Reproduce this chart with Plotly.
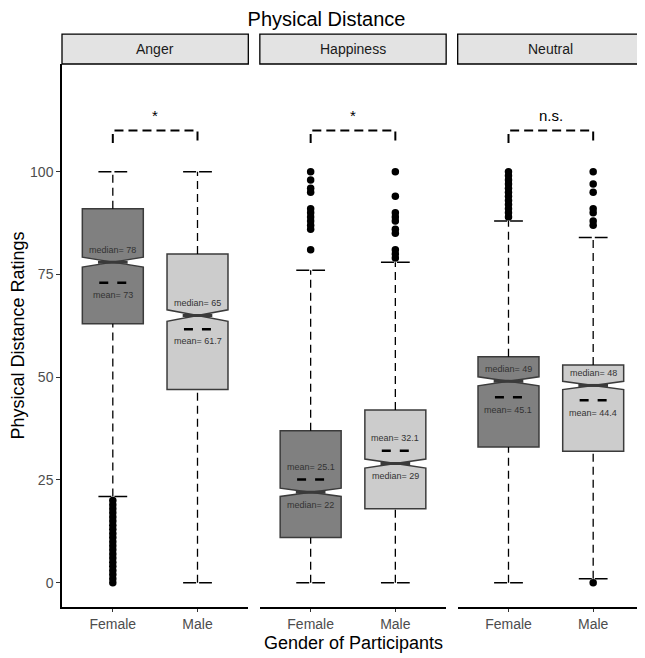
import plotly.graph_objects as go
from plotly.subplots import make_subplots

emotions = ["Anger", "Happiness", "Neutral"]
genders = ["Female", "Male"]
gender_pos = [1, 2]

# box statistics, per emotion: [Female, Male]
q1_vals = {"Anger": [63, 47], "Happiness": [11, 18], "Neutral": [33, 32]}
median_vals = {"Anger": [78, 65], "Happiness": [22, 29], "Neutral": [49, 48]}
q3_vals = {"Anger": [91, 80], "Happiness": [37, 42], "Neutral": [55, 53]}
lower_whisker = {"Anger": [21, 0], "Happiness": [0, 0], "Neutral": [0, 1]}
upper_whisker = {"Anger": [100, 100], "Happiness": [76, 78], "Neutral": [88, 84]}
mean_vals = {"Anger": [73, 61.7], "Happiness": [25.1, 32.1], "Neutral": [45.1, 44.4]}
notch_span = {"Anger": [1.2, 1.4], "Happiness": [1.0, 1.1], "Neutral": [1.1, 1.0]}

outliers = {
    "Anger": [list(range(0, 21)), []],
    "Happiness": [[100, 98, 96, 95, 91, 90, 89, 88, 87, 86, 81],
                  [100, 94, 90, 89, 88, 86, 85, 81, 80, 79]],
    "Neutral": [[100, 99, 98, 97, 96, 95, 94, 93, 92, 91, 90, 89],
                [100, 97, 95, 91, 90, 88, 87, 0]],
}

sig_labels = ["*", "*", "n.s."]
bracket_y = 110
bracket_drop = 107

fills = ["#808080", "#cccccc"]
edge = "#3b3b3b"
font_fam = "Liberation Sans, Arial, sans-serif"

fig = make_subplots(rows=1, cols=3, shared_yaxes=True, horizontal_spacing=0.0198)

for c, emo in enumerate(emotions, start=1):
    xr = "x%d" % c if c > 1 else "x"
    yr = "y%d" % c if c > 1 else "y"
    for g in range(2):
        p = gender_pos[g]
        # whiskers (dashed)
        fig.add_trace(go.Scatter(x=[p, p], y=[q3_vals[emo][g], upper_whisker[emo][g]],
                                 mode="lines", line=dict(color="black", width=1.3, dash="8px,5px"),
                                 hoverinfo="skip"), row=1, col=c)
        fig.add_trace(go.Scatter(x=[p, p], y=[lower_whisker[emo][g], q1_vals[emo][g]],
                                 mode="lines", line=dict(color="black", width=1.3, dash="8px,5px"),
                                 hoverinfo="skip"), row=1, col=c)
        for wy in [upper_whisker[emo][g], lower_whisker[emo][g]]:
            fig.add_trace(go.Scatter(x=[p - 0.17, p + 0.17], y=[wy, wy],
                                     mode="lines", line=dict(color="black", width=1.5, dash="13px,3px"),
                                     hoverinfo="skip"), row=1, col=c)
        # notched box
        fig.add_trace(go.Box(x=[p], q1=[q1_vals[emo][g]], median=[median_vals[emo][g]],
                             q3=[q3_vals[emo][g]], lowerfence=[q1_vals[emo][g]],
                             upperfence=[q3_vals[emo][g]], notched=True,
                             notchspan=[notch_span[emo][g]], notchwidth=0.5, width=0.72,
                             whiskerwidth=0, fillcolor=fills[g], line=dict(color=edge, width=1.5),
                             boxpoints=False, hoverinfo="skip"), row=1, col=c)
        # thick median
        fig.add_trace(go.Scatter(x=[p - 0.175, p + 0.175], y=[median_vals[emo][g]] * 2,
                                 mode="lines", line=dict(color="#3a3a3a", width=3),
                                 hoverinfo="skip"), row=1, col=c)
        # mean dashes
        fig.add_trace(go.Scatter(x=[p - 0.16, p + 0.16], y=[mean_vals[emo][g]] * 2,
                                 mode="lines", line=dict(color="black", width=2.5, dash="9px,9px"),
                                 hoverinfo="skip"), row=1, col=c)
        # outliers
        if outliers[emo][g]:
            fig.add_trace(go.Scatter(x=[p] * len(outliers[emo][g]), y=outliers[emo][g],
                                     mode="markers", marker=dict(color="black", size=7.5),
                                     hoverinfo="skip"), row=1, col=c)
        # median / mean labels
        med, mn = median_vals[emo][g], mean_vals[emo][g]
        med_up = med >= mn
        fig.add_annotation(x=p, y=med + (3 if med_up else -3), text="median= %g" % med,
                           showarrow=False, font=dict(size=9, color="#333333"),
                           xref=xr, yref=yr)
        fig.add_annotation(x=p, y=mn + (-3 if med_up else 3), text="mean= %g" % mn,
                           showarrow=False, font=dict(size=9, color="#333333"),
                           xref=xr, yref=yr)

    # significance bracket
    fig.add_trace(go.Scatter(x=[gender_pos[0], gender_pos[0], gender_pos[1], gender_pos[1]],
                             y=[bracket_drop, bracket_y, bracket_y, bracket_drop],
                             mode="lines", line=dict(color="black", width=2, dash="9px,5px"),
                             hoverinfo="skip"), row=1, col=c)
    fig.add_annotation(x=sum(gender_pos) / 2, y=bracket_y + 1, text=sig_labels[c - 1],
                       showarrow=False, yanchor="bottom", font=dict(size=15, color="black"),
                       xref=xr, yref=yr)

    # facet strip
    fig.add_shape(type="rect", xref=xr + " domain", yref="paper", x0=0, x1=1, y0=1.0, y1=1.0552,
                  fillcolor="#e3e3e3", line=dict(color="black", width=1.3))
    fig.add_annotation(xref=xr + " domain", yref="paper", x=0.5, y=1.0276, text=emo,
                       xanchor="center", yanchor="middle",
                       showarrow=False, font=dict(size=14, color="#1a1a1a"))

    fig.update_xaxes(range=[0.4, 2.6], tickvals=gender_pos, ticktext=genders,
                     showline=True, linecolor="black", linewidth=1.5, ticks="outside",
                     ticklen=3, tickcolor="#333333", showgrid=False, zeroline=False,
                     automargin=False,
                     tickfont=dict(size=14, color="#4d4d4d"), row=1, col=c)

fig.update_yaxes(range=[-5.9, 126.2], showgrid=False, zeroline=False, automargin=False)
fig.update_yaxes(tickvals=[0, 25, 50, 75, 100], showline=True, linecolor="black", linewidth=1.5,
                 ticks="outside", ticklen=4, tickcolor="#333333",
                 tickfont=dict(size=14, color="#4d4d4d"),
                 title=dict(text="Physical Distance Ratings", font=dict(size=18, color="black"), standoff=8),
                 row=1, col=1)
fig.update_yaxes(showline=False, ticks="", showticklabels=False, row=1, col=2)
fig.update_yaxes(showline=False, ticks="", showticklabels=False, row=1, col=3)

fig.add_annotation(xref="paper", yref="paper", x=0.5, y=-0.0663, text="Gender of Participants",
                   xanchor="center", yanchor="middle",
                   showarrow=False, font=dict(size=18, color="black"))

# the page body adds an 8px margin, so the figure is 8px smaller than the window
fig.update_layout(
    width=637, height=650,
    margin=dict(l=54, r=1, t=56, b=51),
    title=dict(text="Physical Distance", x=0.5, xanchor="center", y=0.983, yanchor="middle",
               font=dict(size=20, color="black")),
    font=dict(family=font_fam),
    plot_bgcolor="white", paper_bgcolor="white",
    showlegend=False, boxmode="overlay",
)

fig.write_html("out.html")
